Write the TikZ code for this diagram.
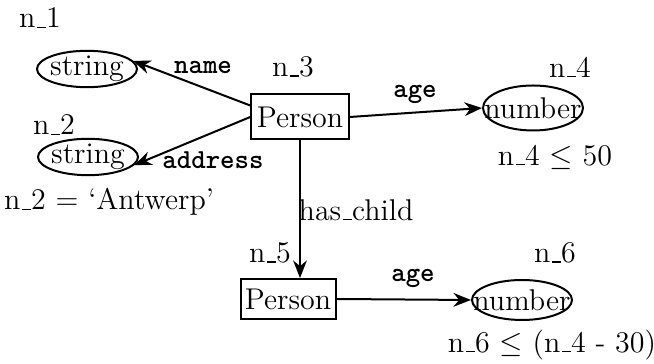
\documentclass[tikz,border=0pt]{standalone}
\usetikzlibrary{arrows.meta, shapes.geometric}

% short low underscore, as in the old text fonts
\newcommand{\us}{\leavevmode\kern.06em\vbox{\hrule width.3em height.5pt}}

\begin{document}
\begin{tikzpicture}[
    x=0.4pt, y=-0.4pt,
    font=\fontsize{12}{14}\selectfont,
    cls/.style={rectangle, draw=black, thick, inner sep=0pt, minimum width=39pt, minimum height=18pt},
    val/.style={ellipse, draw=black, thick, inner sep=0pt, minimum width=40pt, minimum height=14pt},
    role/.style={font=\fontsize{11}{13}\selectfont\ttfamily\bfseries},
    arrow/.style={-{Stealth[length=7pt, width=5.5pt]}, thick}
]
    \useasboundingbox (0,0) rectangle (654,364);

    % --- Top Person and its attributes ---
    \node[cls] (n3) at (300,117) {Person};
    \node[val] (n1) at (87,69) {\makebox[0pt]{string}};
    \node[val] (n2) at (88,157) {\makebox[0pt]{string}};
    \node[val, minimum height=18pt] (n4) at (533,108) {\makebox[0pt]{number}};

    % --- Child Person ---
    \node[cls, minimum width=38pt, minimum height=16pt] (n5) at (288,299) {Person};
    \node[val, minimum height=16pt] (n6) at (522,300) {\makebox[0pt]{number}};

    % --- Variable names ---
    \node (v1) at (40,18) {n\us1};
    \node (v2) at (54,125) {n\us2};
    \node (v3) at (293,67) {n\us3};
    \node (v4) at (570,67) {n\us4};
    \node (v5) at (270,253) {n\us5};
    \node (v6) at (555,253) {n\us6};

    % --- Constraints ---
    \node (c2) at (109,202) {n\us2 = `Antwerp'};
    \node (c4) at (555,157) {n\us4 $\leq$ 50};
    \node (c6) at (552,345) {n\us6 $\leq$ (n\us4 - 30)};

    % --- Edges ---
    \draw[arrow] (n3.167) -- (n1.10);
    \draw[arrow] (n3.west) -- (n2.-10);
    \draw[arrow] (n3.east) -- (n4.west);
    \draw[arrow] (n3.south) -- (n3.south |- n5.north);
    \draw[arrow] (n5.east) -- (n6.west);

    % --- Edge labels ---
    \node[role] (e1) at (203,67) {name};
    \node[role] (e2) at (213,160) {address};
    \node[role] (e3) at (415,94) {age};
    \node (e4) at (356,210) {has\us child};
    \node[role] (e5) at (413,278) {age};
\end{tikzpicture}
\end{document}
